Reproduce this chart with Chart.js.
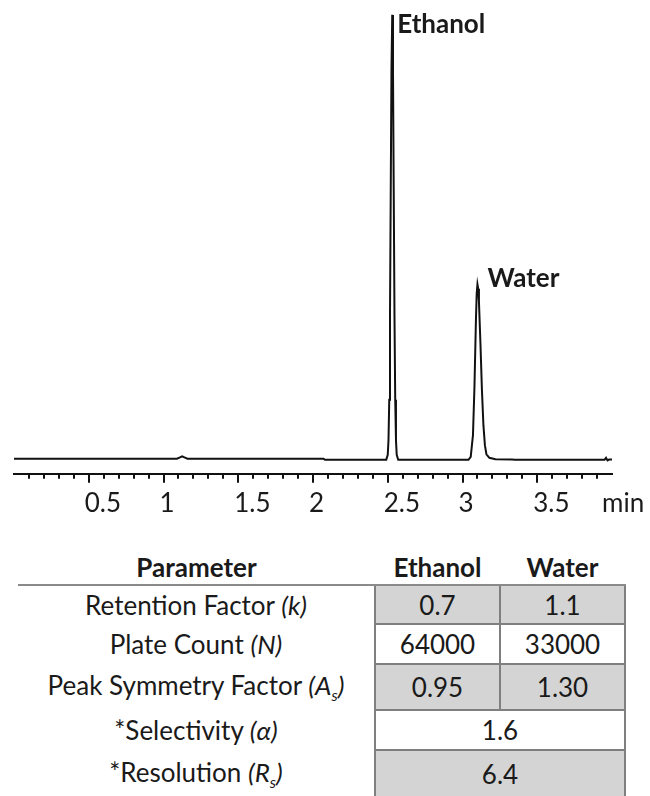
<!DOCTYPE html>
<html>
<head>
<meta charset="utf-8">
<script src="https://cdn.jsdelivr.net/npm/chart.js@4.4.0/dist/chart.umd.min.js"></script>
<style>
  body { margin: 0; background: #fff; font-family: Lato, "Open Sans", sans-serif; color: #1a1a1a; }
  .page { position: relative; width: 650px; height: 796px; overflow: hidden; }
  .chart-box { position: absolute; left: 0; top: 0; width: 650px; height: 533px; }
  #results { position: absolute; left: 18px; top: 549px; border-collapse: collapse; table-layout: fixed; font-size: 26px; }
  #results th { font-weight: bold; height: 35px; padding: 0; border-bottom: 2px solid #8a8a8a; text-align: center; }
  #results td { padding: 0; text-align: center; }
  #results td.val { border: 2px solid #7f7f7f; }
  #results tr.shade td.val { background: #d4d4d4; }
  #results i sub { font-size: 0.6em; }
</style>
</head>
<body>
<div class="page">
  <div class="chart-box"><canvas id="chart"></canvas></div>
  <table id="results">
    <colgroup><col style="width:357px"><col style="width:125px"><col style="width:125px"></colgroup>
    <thead><tr><th>Parameter</th><th>Ethanol</th><th>Water</th></tr></thead>
    <tbody></tbody>
  </table>
</div>
<script>
// chromatogram trace (time in min, detector signal)
const times = [0, 0.5, 1.09, 1.11, 1.125, 1.14, 1.16, 1.6, 2.07, 2.08, 2.3, 2.49,
  2.5, 2.505, 2.51, 2.515, 2.52, 2.525, 2.53, 2.535, 2.54, 2.545, 2.55, 2.555, 2.56, 2.57,
  2.8, 3.04, 3.055, 3.07, 3.08, 3.09, 3.095, 3.1, 3.105, 3.11, 3.12, 3.13, 3.14, 3.15, 3.16,
  3.18, 3.22, 3.33, 3.35, 3.7, 3.95, 3.96, 3.97, 3.98, 4.0];
const signal = [0, 0, 0, 0.3, 0.55, 0.3, 0, 0, 0, -0.25, -0.25, -0.25,
  0.9, 4.2, 13.3, 32.3, 60.5, 88, 100, 88, 60.5, 32.3, 13.3, 4.2, 0.9, -0.25,
  -0.25, -0.25, 0.4, 5.3, 16.2, 31.5, 37.2, 39.3, 38.3, 35.4, 26, 15.5, 7.5, 3, 1,
  0.2, -0.1, -0.2, -0.25, -0.25, -0.25, 0.2, -0.4, -0.2, -0.2];

const tickValues = [0.5, 1, 1.5, 2, 2.5, 3, 3.5];
const tickLabels = ['0.5', '1', '1.5', '2', '2.5', '3', '3.5'];

const peakNames = ['Ethanol', 'Water'];
const peakTimes = [2.53, 3.1];
const peakHeights = [100, 39.3];

// results table
const parameters = ['Retention Factor', 'Plate Count', 'Peak Symmetry Factor', '*Selectivity', '*Resolution'];
const symbols = ['k', 'N', 'A<sub>s</sub>', 'α', 'R<sub>s</sub>'];
const ethanolValues = ['0.7', '64000', '0.95', '1.6', '6.4'];
const waterValues = ['1.1', '33000', '1.30', null, null];

const rowHeights = [39, 40, 46, 40, 48];
const tbody = document.querySelector('#results tbody');
parameters.forEach((p, i) => {
  const tr = document.createElement('tr');
  if (i % 2 === 0) tr.className = 'shade';
  tr.style.height = rowHeights[i] + 'px';
  let html = '<td>' + p + ' <i>(' + symbols[i] + ')</i></td>';
  if (waterValues[i] === null) {
    html += '<td class="val" colspan="2">' + ethanolValues[i] + '</td>';
  } else {
    html += '<td class="val">' + ethanolValues[i] + '</td><td class="val">' + waterValues[i] + '</td>';
  }
  tr.innerHTML = html;
  tbody.appendChild(tr);
});

const near = (a, b) => Math.abs(a - b) < 1e-6;
const tickLabel = v => {
  const i = tickValues.findIndex(t => near(t, v));
  return i < 0 ? '' : tickLabels[i];
};

const nameOffsets = [[5, 18], [10, 3]];

const axisExtras = {
  id: 'axisExtras',
  afterDraw(chart) {
    const { ctx, scales: { x, y } } = chart;
    ctx.save();
    ctx.strokeStyle = '#111';
    ctx.lineWidth = 2;
    x.ticks.forEach(t => {
      if (t.value < 0.05 || t.value > 3.95) return;
      const px = Math.round(x.getPixelForValue(t.value));
      const major = near(t.value * 2, Math.round(t.value * 2));
      ctx.beginPath();
      ctx.moveTo(px, x.top);
      ctx.lineTo(px, x.top + (major ? 9 : 5));
      ctx.stroke();
    });

    ctx.fillStyle = '#1a1a1a';
    ctx.textAlign = 'left';
    ctx.textBaseline = 'alphabetic';
    ctx.font = '26px Lato';
    ctx.fillText('min', x.right - 10, x.top + 38);

    ctx.font = 'bold 26px Lato';
    peakNames.forEach((name, i) => {
      const px = x.getPixelForValue(peakTimes[i]) + nameOffsets[i][0];
      const py = y.getPixelForValue(peakHeights[i]) + nameOffsets[i][1];
      ctx.fillText(name, px, py);
    });
    ctx.restore();
  }
};

const chart = document.querySelector('#chart').getContext('2d');

new Chart(chart, {
  type: 'line',
  data: {
    datasets: [{
      data: times.map((t, i) => ({ x: t, y: signal[i] })),
      borderColor: '#111',
      borderWidth: 2,
      pointRadius: 0,
      tension: 0
    }]
  },
  options: {
    animation: false,
    responsive: true,
    maintainAspectRatio: false,
    layout: { padding: { left: 9, right: 38, top: 10, bottom: 0 } },
    plugins: { legend: { display: false }, tooltip: { enabled: false } },
    scales: {
      x: {
        type: 'linear',
        min: 0,
        max: 4,
        grid: { display: false, drawTicks: false },
        border: { display: true, color: '#111', width: 2 },
        ticks: {
          stepSize: 0.1,
          autoSkip: false,
          maxRotation: 0,
          align: 'start',
          labelOffset: -4,
          padding: 14,
          color: '#1a1a1a',
          font: { family: 'Lato', size: 26 },
          callback: v => tickLabel(v)
        }
      },
      y: { display: false, min: -3.4, max: 101.1 }
    }
  },
  plugins: [axisExtras]
});
</script>
</body>
</html>
